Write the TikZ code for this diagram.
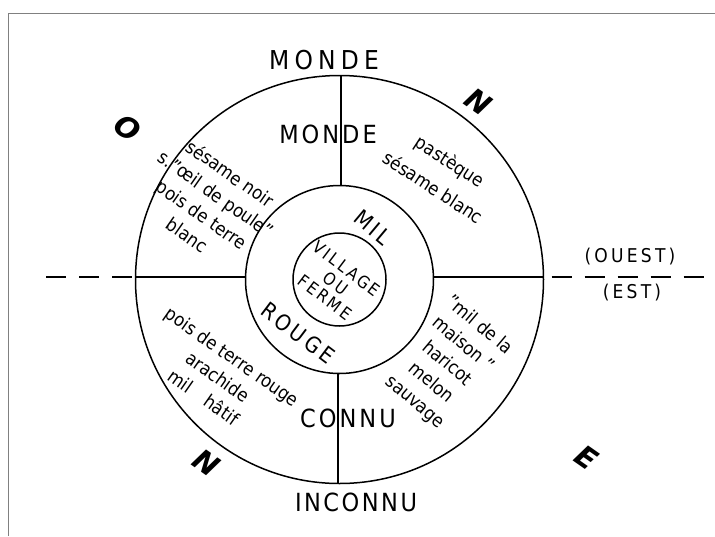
\documentclass[tikz,border=0pt]{standalone}
\usepackage{fontspec}
\setmainfont{DejaVu Sans Condensed}
\newfontfamily\compassfont{DejaVu Sans}
\begin{document}
\begin{tikzpicture}[x=1pt,y=-1pt,
  ring/.style={line width=1.5pt},
  axis/.style={line width=1.5pt, dash pattern=on 20pt off 13pt},
  crop/.style={font=\fontsize{18.5}{25}\selectfont, align=center, inner sep=0pt},
  zone/.style={font=\fontsize{25}{25}\selectfont\addfontfeature{LetterSpace=12}, inner sep=0pt},
  band/.style={font=\fontsize{22}{22}\selectfont\addfontfeature{LetterSpace=15}, inner sep=0pt},
  side/.style={font=\fontsize{19}{19}\selectfont\addfontfeature{LetterSpace=17}, inner sep=0pt},
  compass/.style={font=\compassfont\bfseries\itshape\fontsize{29}{29}\selectfont, inner sep=0pt, rotate=-35}]
\useasboundingbox (0,0) rectangle (715,536);
% frame
\draw[gray, line width=1pt] (8,536) -- (8,13.5) -- (715,13.5);
% rings
\coordinate (c) at (339.5,279.5);
\draw[ring] (c) circle [radius=204];
\draw[ring] (c) circle [radius=94];
\draw[ring] (c) circle [radius=46.5];
% spokes
\coordinate (nO) at (341,75.5);
\coordinate (nI) at (341,185.5);
\coordinate (sI) at (338,373.5);
\coordinate (sO) at (338,483.5);
\coordinate (wO) at (135.5,277);
\coordinate (wI) at (245.5,277);
\coordinate (eI) at (433.5,277);
\coordinate (eO) at (543.5,277);
\coordinate (wEnd) at (36,277);
\coordinate (eEnd) at (715,277);
\draw[ring] (nO) -- (nI);
\draw[ring] (sI) -- (sO);
\draw[ring] (wO) -- (wI);
\draw[ring] (eI) -- (eO);
\draw[axis] ([xshift=-4pt]wO) -- (wEnd);
\draw[axis] ([xshift=8pt]eO) -- (eEnd);
% zones
\node[zone, font=\fontsize{26}{26}\selectfont\addfontfeature{LetterSpace=20}] (mondeOut) at (324,60) {MONDE};
\node[zone] (mondeIn) at (328,134) {MONDE};
\node[zone] (connu) at (348,418) {CONNU};
\node[zone, font=\fontsize{25}{25}\selectfont\addfontfeature{LetterSpace=10}] (inconnu) at (356,502) {INCONNU};
% middle band
\node[band, rotate=-40] (mil) at (373,227) {MIL};
\node[band, rotate=-37] (rouge) at (298,333) {ROUGE};
\node[band, font=\fontsize{17}{18}\selectfont\addfontfeature{LetterSpace=15}, align=center, rotate=-37] (village) at (336,283) {VILLAGE\\OU\\FERME};
% crops
\node[crop, rotate=-35] (cropNW) at (209,204) {sésame noir\\s."œil de poule"\\pois de terre\\blanc};
\node[crop, rotate=-33] (cropNE) at (442,174) {pastèque\\[6pt]sésame blanc};
\node[crop, rotate=-35] (cropSW) at (218,377) {pois de terre rouge\\arachide\\mil\quad hâtif};
\node[crop, rotate=-40] (cropSE) at (447,364) {"mil de la\\maison "\\haricot\\melon\\sauvage};
% compass
\node[compass] (west) at (128,128) {O};
\node[compass] (northA) at (478,102) {N};
\node[compass] (northB) at (207,463) {N};
\node[compass] (east) at (587,458) {E};
% west / east
\node[side] (ouest) at (630,257) {(OUEST)};
\node[side] (est) at (632,293) {(EST)};
\end{tikzpicture}
\end{document}
